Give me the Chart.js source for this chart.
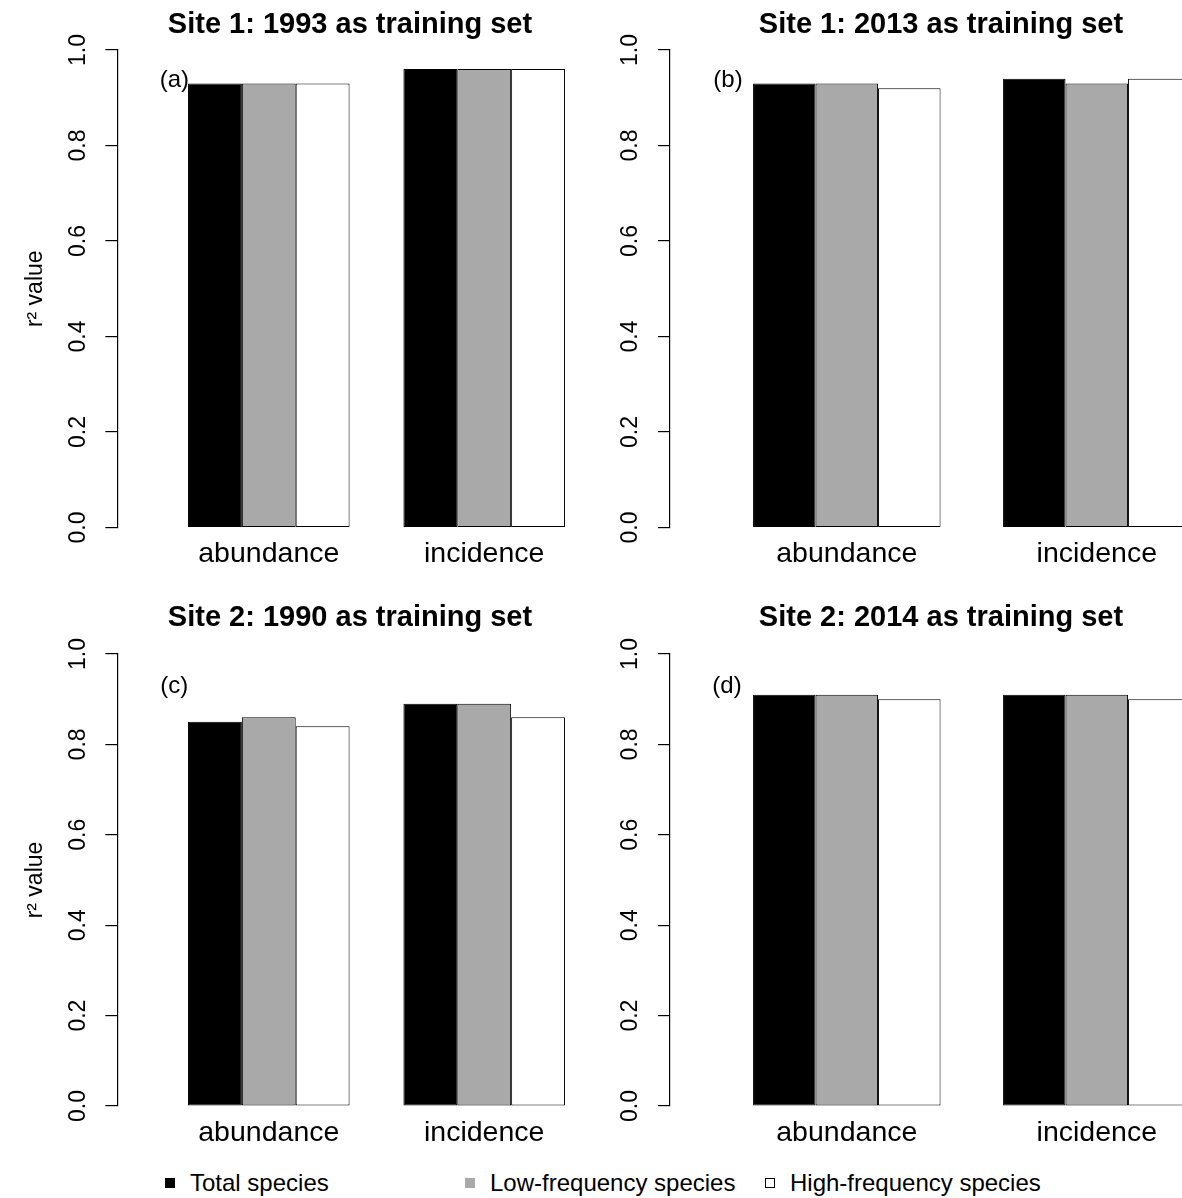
<!DOCTYPE html>
<html>
<head>
<meta charset="utf-8">
<title>r2 values by training set</title>
<script src="https://cdn.jsdelivr.net/npm/chart.js@4.4.1/dist/chart.umd.min.js"></script>
<style>
  html, body { margin: 0; padding: 0; background: #fff; overflow: hidden; width: 1182px; height: 1198px; }
  canvas { position: absolute; }
  #legend { position: absolute; left: 0; top: 1168px; width: 1182px; height: 30px; font: 24px "Liberation Sans", Arial, sans-serif; color: #000; }
  .swatch { position: absolute; top: 10px; width: 10px; height: 10px; box-sizing: border-box; border: 1px solid #000; }
  .label { position: absolute; top: 0; line-height: 30px; white-space: nowrap; }
</style>
</head>
<body>
<div id="legend"></div>
<script>
const FONT = '"Liberation Sans", Arial, sans-serif'

//data
const categories = ['abundance', 'incidence']
const seriesNames = ['Total species', 'Low-frequency species', 'High-frequency species']
const seriesColors = ['#000000', '#a9a9a9', '#ffffff']
const yTicks = [0, 0.2, 0.4, 0.6, 0.8, 1.0]

const site1y1993Total = [0.93, 0.96]
const site1y1993Low = [0.93, 0.96]
const site1y1993High = [0.93, 0.96]

const site1y2013Total = [0.93, 0.94]
const site1y2013Low = [0.93, 0.93]
const site1y2013High = [0.92, 0.94]

const site2y1990Total = [0.85, 0.89]
const site2y1990Low = [0.86, 0.89]
const site2y1990High = [0.84, 0.86]

const site2y2014Total = [0.91, 0.91]
const site2y2014Low = [0.91, 0.91]
const site2y2014High = [0.90, 0.90]

//page geometry of each panel (window pixels)
const panels = [
    {title: 'Site 1: 1993 as training set', tag: '(a)', yTitle: true, series: [site1y1993Total, site1y1993Low, site1y1993High],
     left: 0, top: 0, width: 700, height: 590, axisX: 117.3, firstCenter: 268.8, unitPx: 215.4, areaTop: 50, areaBottom: 527.5, titleY: 25, tagDx: 57, tagY: 80},
    {title: 'Site 1: 2013 as training set', tag: '(b)', yTitle: false, series: [site1y2013Total, site1y2013Low, site1y2013High],
     left: 600, top: 0, width: 682, height: 590, axisX: 670, firstCenter: 846.8, unitPx: 250, areaTop: 50, areaBottom: 527.5, titleY: 25, tagDx: 58, tagY: 80},
    {title: 'Site 2: 1990 as training set', tag: '(c)', yTitle: true, series: [site2y1990Total, site2y1990Low, site2y1990High],
     left: 0, top: 590, width: 700, height: 560, axisX: 117.3, firstCenter: 268.8, unitPx: 215.4, areaTop: 654, areaBottom: 1106, titleY: 618, tagDx: 57, tagY: 686},
    {title: 'Site 2: 2014 as training set', tag: '(d)', yTitle: false, series: [site2y2014Total, site2y2014Low, site2y2014High],
     left: 600, top: 590, width: 682, height: 560, axisX: 670, firstCenter: 846.8, unitPx: 250, areaTop: 654, areaBottom: 1106, titleY: 618, tagDx: 57, tagY: 686}
]

//draws the (a) (b) ... panel tags
const tagPlugin = {
    id: 'panelTag',
    afterDraw(chart, args, opts){
        let ctx = chart.ctx
        ctx.save()
        ctx.font = '24px ' + FONT
        ctx.fillStyle = '#000'
        ctx.textAlign = 'center'
        ctx.textBaseline = 'middle'
        ctx.fillText(opts.text, chart.chartArea.left + opts.dx, chart.chartArea.top + opts.dy)
        ctx.restore()
    }
}

function makePanel(p){
    let canvas = document.createElement('canvas')
    canvas.width = p.width
    canvas.height = p.height
    canvas.style.left = p.left + 'px'
    canvas.style.top = p.top + 'px'
    document.body.appendChild(canvas)

    let axisLeft = p.axisX - p.left //width of the y axis box inside the canvas
    let areaTop = p.areaTop - p.top
    let xAxisHeight = p.top + p.height - p.areaBottom
    let xMin = -(p.firstCenter - p.axisX) / p.unitPx
    let xMax = xMin + (p.width - axisLeft) / p.unitPx
    let titleSize = 29
    let titleLine = titleSize * 1.2
    let titlePadTop = (p.titleY - p.top) - titleLine / 2
    let titlePadBottom = areaTop - titleLine - titlePadTop

    let datasets = p.series.map((vals, i) => ({
        label: seriesNames[i],
        data: vals.map((v, j) => ({x: j, y: v})),
        backgroundColor: seriesColors[i],
        borderColor: '#000',
        borderWidth: 1,
        borderSkipped: false,
        categoryPercentage: 0.75,
        barPercentage: 1
    }))

    return new Chart(canvas, {
        type: 'bar',
        data: {datasets: datasets},
        options: {
            responsive: false,
            animation: false,
            devicePixelRatio: 1,
            layout: {padding: 0},
            plugins: {
                legend: {display: false},
                tooltip: {enabled: false},
                title: {
                    display: true,
                    text: p.title,
                    color: '#000',
                    font: {family: FONT, size: titleSize, weight: 'bold', lineHeight: 1.2},
                    padding: {top: titlePadTop, bottom: titlePadBottom}
                },
                panelTag: {text: p.tag, dx: p.tagDx, dy: p.tagY - p.areaTop}
            },
            scales: {
                x: {
                    type: 'linear',
                    min: xMin,
                    max: xMax,
                    bounds: 'data',
                    offset: false,
                    grid: {display: false},
                    border: {display: false},
                    afterBuildTicks: s => { s.ticks = categories.map((c, i) => ({value: i})) },
                    afterFit: s => { s.height = xAxisHeight },
                    ticks: {
                        callback: v => categories[v],
                        color: '#000',
                        font: {family: FONT, size: 28.5},
                        padding: 2,
                        maxRotation: 0,
                        autoSkip: false
                    }
                },
                y: {
                    min: 0,
                    max: 1,
                    afterBuildTicks: s => { s.ticks = yTicks.map(v => ({value: v})) },
                    afterFit: s => { s.width = axisLeft },
                    grid: {drawOnChartArea: false, drawTicks: true, tickLength: 12, color: '#000', lineWidth: 1.2},
                    border: {display: true, color: '#000', width: 1.2},
                    ticks: {
                        callback: v => v.toFixed(1),
                        minRotation: 90,
                        maxRotation: 90,
                        crossAlign: 'center',
                        padding: 11,
                        color: '#000',
                        font: {family: FONT, size: 23}
                    },
                    title: {
                        display: p.yTitle,
                        text: 'r\u00B2 value',
                        color: '#000',
                        font: {family: FONT, size: 23, lineHeight: 1.2},
                        padding: {top: 22, bottom: 0}
                    }
                }
            }
        },
        plugins: [tagPlugin]
    })
}

panels.forEach(p => makePanel(p))

//shared legend along the bottom
const legendSwatchX = [165, 465, 765]
let legend = document.getElementById('legend')
seriesNames.forEach((name, i) => {
    let sw = document.createElement('span')
    sw.className = 'swatch'
    sw.style.left = legendSwatchX[i] + 'px'
    sw.style.background = seriesColors[i]
    if (i < 2) sw.style.borderColor = seriesColors[i]
    legend.appendChild(sw)
    let lb = document.createElement('span')
    lb.className = 'label'
    lb.style.left = (legendSwatchX[i] + 25) + 'px'
    lb.textContent = name
    legend.appendChild(lb)
})
</script>
</body>
</html>
